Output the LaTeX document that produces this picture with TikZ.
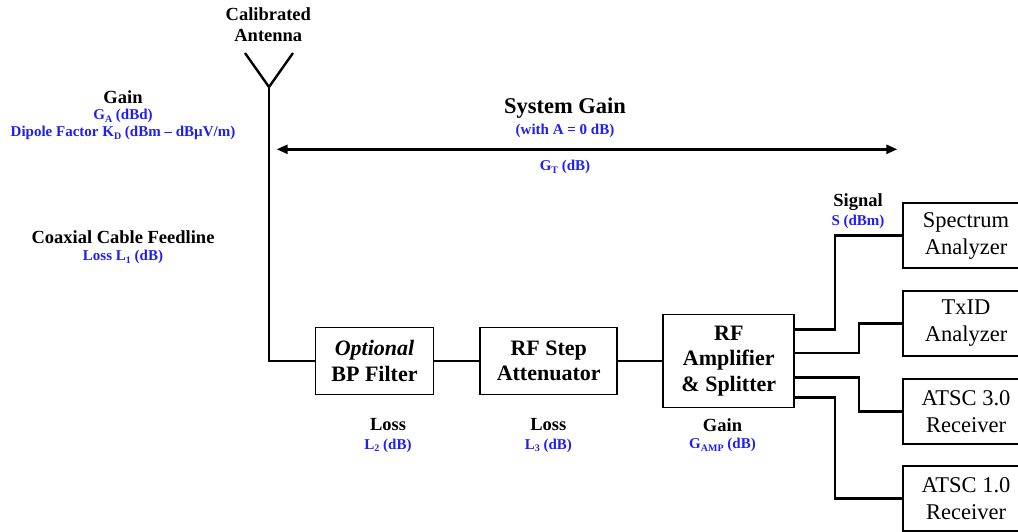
\documentclass[tikz,border=0pt]{standalone}
\usepackage{fontspec}
\setmainfont{Liberation Serif}
\usetikzlibrary{arrows.meta}
\definecolor{lblblue}{RGB}{30,30,245}
\newcommand{\subtxt}[1]{\raisebox{-0.35ex}{\fontsize{10}{10}\selectfont #1}}

\begin{document}
\begin{tikzpicture}[x=1pt,y=-1pt,
  wire/.style={line width=2.4pt},
  blockbox/.style={draw,line width=1.7pt,align=center,inner sep=0pt,
    minimum height=67pt,font=\bfseries\fontsize{22}{25.5}\selectfont},
  devbox/.style={draw,line width=1.7pt,align=center,inner sep=0pt,
    minimum width=126pt,minimum height=65pt,font=\fontsize{22.5}{27}\selectfont},
  lbl/.style={inner sep=0pt,align=center,font=\bfseries\fontsize{18.5}{21}\selectfont},
  bluelbl/.style={inner sep=0pt,align=center,text=lblblue,font=\bfseries\fontsize{15}{17}\selectfont}]
\useasboundingbox (0,0) rectangle (1018,531);

  % antenna and feedline
  \coordinate (antbase) at (269,87);
  \coordinate (armL) at (245,53);
  \coordinate (armR) at (293,53);

  % signal chain
  \node[blockbox,minimum width=118pt] (filter) at (374.5,361) {\textit{Optional}\\BP Filter};
  \node[blockbox,minimum width=137pt] (atten) at (548.7,361) {RF Step\\Attenuator};
  \node[blockbox,minimum width=131pt,minimum height=93pt] (amp) at (728.8,361) {RF\\Amplifier\\\& Splitter};

  % test equipment
  \node[devbox] (spec) at (966,235.5) {Spectrum\\Analyzer};
  \node[devbox] (txid) at (966,323.5) {TxID\\Analyzer};
  \node[devbox] (atsc3) at (966,411.5) {ATSC 3.0\\Receiver};
  \node[devbox] (atsc1) at (966,498.5) {ATSC 1.0\\Receiver};

  % system gain span
  \coordinate (gl) at (276.7,149.3);
  \coordinate (gr) at (897.3,149.3);

  % labels
  \node[lbl] (calib) at (268.3,24.5) {Calibrated\\Antenna};
  \node[lbl] (gainA) at (123,97) {Gain};
  \node[bluelbl] (gA) at (123,116) {G\subtxt{A} (dBd)};
  \node[bluelbl] (kD) at (123,133.3) {Dipole Factor K\subtxt{D} (dBm – dBµV/m)};
  \node[lbl] (coax) at (123,237.3) {Coaxial Cable Feedline};
  \node[bluelbl] (l1) at (123,257.3) {Loss L\subtxt{1} (dB)};
  \node[lbl,font=\bfseries\fontsize{22.5}{25}\selectfont] (sysgain) at (565,108) {System Gain};
  \node[bluelbl] (withA) at (565,131) {(with A = 0 dB)};
  \node[bluelbl] (gT) at (565,167) {G\subtxt{T} (dB)};
  \node[lbl] (signal) at (858,201.7) {Signal};
  \node[bluelbl] (sdbm) at (858,221.7) {S (dBm)};
  \node[lbl] (loss2) at (388,425) {Loss};
  \node[bluelbl] (l2) at (388,445.7) {L\subtxt{2} (dB)};
  \node[lbl] (loss3) at (548.3,425) {Loss};
  \node[bluelbl] (l3) at (548.3,445.7) {L\subtxt{3} (dB)};
  \node[lbl] (gainamp) at (722.5,425) {Gain};
  \node[bluelbl] (gamp) at (722.5,445) {G\subtxt{AMP} (dB)};

\draw[wire] (armL) -- (antbase) -- (armR);
\draw[wire] (antbase) |- (filter.west);
\foreach \from/\to in {filter/atten, atten/amp}
\draw[wire] (\from) -- (\to);

\draw[wire] ([yshift=31.7]amp.east) -- ++(40,0) |- (spec.west);
\draw[wire] ([yshift=8.3]amp.east) -- ++(64,0) |- (txid.west);
\draw[wire] ([yshift=-16.3]amp.east) -- ++(64,0) |- (atsc3.west);
\draw[wire] ([yshift=-36.3]amp.east) -- ++(40,0) |- (atsc1.west);

\draw[wire,{Triangle[length=11pt,width=9pt]}-{Triangle[length=11pt,width=9pt]}] (gl) -- (gr);

\end{tikzpicture}
\end{document}
